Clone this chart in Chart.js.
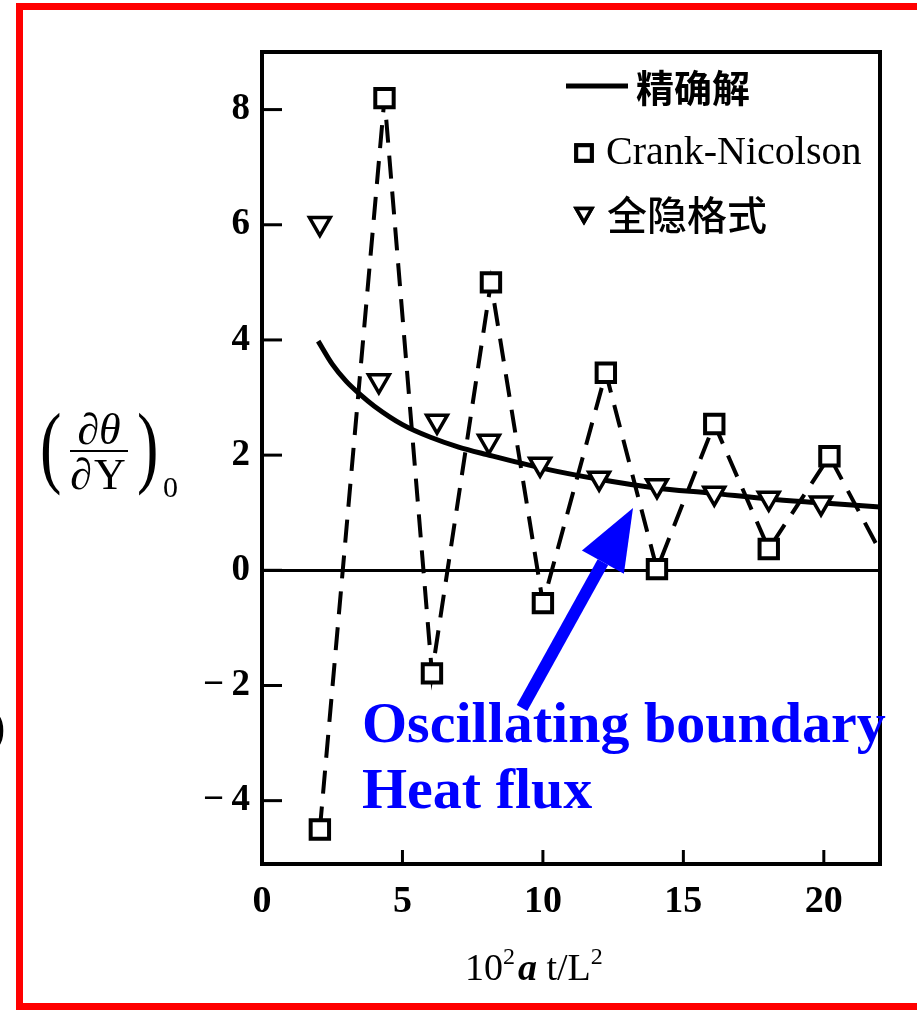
<!DOCTYPE html>
<html>
<head>
<meta charset="utf-8">
<script src="https://cdn.jsdelivr.net/npm/chart.js@4.4.0/dist/chart.umd.min.js"></script>
<style>
  html, body { margin: 0; padding: 0; background: #fff; }
  #wrap { position: relative; width: 917px; height: 1010px; overflow: hidden; }
  #frame { position: absolute; left: 16px; top: 3px; width: 940px; height: 1007px;
           border: 7px solid #f00; border-right: none; box-sizing: border-box; }
  #cut { position: absolute; left: -10px; top: 700px; font: bold 46px "Liberation Serif", serif; color: #000; z-index: 2; }
  #chart-box { position: absolute; left: 0; top: 0; width: 917px; height: 1010px; }
</style>
</head>
<body>
<div id="wrap">
  <div id="frame"></div>
  <div id="chart-box"><canvas id="fluxChart"></canvas></div>
  <span id="cut">)</span>
</div>
<script>
// values
const exactT    = [2, 2.5, 3, 3.5, 4, 5, 6, 7, 8, 10, 12, 14, 16, 18, 20, 22];
const exactFlux = [3.98, 3.58, 3.28, 3.05, 2.85, 2.53, 2.31, 2.14, 2.01, 1.77, 1.58, 1.43, 1.34, 1.24, 1.17, 1.1];

const cnT    = [2.06, 4.36, 6.05, 8.15, 10.0, 12.24, 14.06, 16.1, 18.04, 20.2, 22.2];
const cnFlux = [-4.5, 8.2, -1.79, 5.0, -0.57, 3.43, 0.02, 2.54, 0.37, 1.98, 0.15];

const implT    = [2.06, 4.16, 6.23, 8.08, 9.9, 12.0, 14.06, 16.1, 18.04, 19.9];
const implFlux = [6.02, 3.29, 2.59, 2.24, 1.84, 1.6, 1.47, 1.34, 1.25, 1.17];

const xTicks = [0, 5, 10, 15, 20];
const yTicks = [-4, -2, 0, 2, 4, 6, 8];

const legendLabels = ['精确解', 'Crank-Nicolson', '全隐格式'];

const SERIF = '"Liberation Serif", "Times New Roman", serif';
const CJK = '"Noto Sans CJK SC", sans-serif';

function pairs(xs, ys) {
    return xs.map((x, i) => ({ x: x, y: ys[i] }));
}

// frame, inward ticks, axis titles, legend and the blue note
const decorPlugin = {
    id: 'decor',
    afterDraw(chart) {
        const ctx = chart.ctx;
        const a = chart.chartArea;
        const xs = chart.scales.x;
        const ys = chart.scales.y;
        ctx.save();
        ctx.strokeStyle = '#000';
        ctx.fillStyle = '#000';

        // frame
        ctx.lineWidth = 4;
        ctx.strokeRect(a.left, a.top, a.right - a.left, a.bottom - a.top);

        // inward ticks
        ctx.lineWidth = 3;
        yTicks.forEach(v => {
            const y = ys.getPixelForValue(v);
            ctx.beginPath(); ctx.moveTo(a.left, y); ctx.lineTo(a.left + 20, y); ctx.stroke();
        });
        xTicks.slice(1).forEach(v => {
            const x = xs.getPixelForValue(v);
            ctx.beginPath(); ctx.moveTo(x, a.bottom); ctx.lineTo(x, a.bottom - 14); ctx.stroke();
        });

        // y title  ( dθ/dY )0
        ctx.textAlign = 'left';
        ctx.textBaseline = 'alphabetic';
        ctx.save();
        ctx.translate(40, 476);
        ctx.scale(0.7, 1);
        ctx.font = '92px ' + SERIF;
        ctx.fillText('(', 0, 0);
        ctx.restore();
        ctx.save();
        ctx.translate(137, 476);
        ctx.scale(0.7, 1);
        ctx.font = '92px ' + SERIF;
        ctx.fillText(')', 0, 0);
        ctx.restore();
        ctx.font = 'italic 44px ' + SERIF;
        ctx.textAlign = 'center';
        ctx.fillText('∂θ', 99, 444);
        ctx.lineWidth = 2;
        ctx.beginPath(); ctx.moveTo(70, 451); ctx.lineTo(128, 451); ctx.stroke();
        ctx.textAlign = 'left';
        ctx.font = 'italic 44px ' + SERIF;
        ctx.fillText('∂', 70, 489);
        ctx.font = '44px ' + SERIF;
        ctx.fillText('Y', 94, 489);
        ctx.font = '30px ' + SERIF;
        ctx.fillText('0', 163, 497);

        // x title  10^2 a t/L^2
        let x = 465;
        const base = 980;
        const parts = [
            ['10', '38px ' + SERIF, 0],
            ['2', '24px ' + SERIF, -16],
            ['a', 'italic bold 38px ' + SERIF, 0],
            [' t/L', '38px ' + SERIF, 0],
            ['2', '24px ' + SERIF, -16]
        ];
        parts.forEach(p => {
            ctx.font = p[1];
            ctx.fillText(p[0], x, base + p[2]);
            x += ctx.measureText(p[0]).width + (p[0] === '2' && x < 520 ? 3 : 0);
        });

        // legend
        ctx.lineWidth = 5;
        ctx.beginPath(); ctx.moveTo(566, 86); ctx.lineTo(628, 86); ctx.stroke();
        ctx.textBaseline = 'middle';
        ctx.font = 'bold 38px ' + CJK;
        ctx.fillText(legendLabels[0], 636, 88);
        ctx.font = '40px ' + SERIF;
        ctx.fillText(legendLabels[1], 606, 153);
        ctx.font = '500 40px ' + CJK;
        ctx.fillText(legendLabels[2], 607, 215);
        ctx.fillStyle = '#fff';
        ctx.lineWidth = 4;
        Chart.helpers.drawPoint(ctx, { pointStyle: 'rect', radius: 11, borderWidth: 4, rotation: 0 }, 584, 153);
        ctx.fill(); ctx.stroke();
        ctx.lineWidth = 3.5;
        Chart.helpers.drawPoint(ctx, { pointStyle: 'triangle', radius: 9, borderWidth: 3.5, rotation: 180 }, 584, 213);
        ctx.fill(); ctx.stroke();

        // blue arrow and note
        const tail = { x: 522, y: 708 };
        const tip = { x: 633, y: 508 };
        const ang = Math.atan2(tip.y - tail.y, tip.x - tail.x);
        const headLen = 62, headHalf = 24;
        const bx = tip.x - headLen * Math.cos(ang), by = tip.y - headLen * Math.sin(ang);
        ctx.strokeStyle = '#0000ff';
        ctx.fillStyle = '#0000ff';
        ctx.lineWidth = 12;
        ctx.beginPath(); ctx.moveTo(tail.x, tail.y); ctx.lineTo(bx, by); ctx.stroke();
        ctx.beginPath();
        ctx.moveTo(tip.x, tip.y);
        ctx.lineTo(bx + headHalf * Math.sin(ang), by - headHalf * Math.cos(ang));
        ctx.lineTo(bx - headHalf * Math.sin(ang), by + headHalf * Math.cos(ang));
        ctx.closePath(); ctx.fill();

        ctx.textBaseline = 'alphabetic';
        ctx.textAlign = 'left';
        ctx.font = 'bold 58px ' + SERIF;
        ctx.fillText('Oscillating boundary', 362, 742);
        ctx.fillText('Heat flux', 362, 808);
        ctx.restore();
    }
};

document.addEventListener('DOMContentLoaded', () => {
    const ctxFlux = document.getElementById('fluxChart');
    new Chart(ctxFlux, {
        type: 'line',
        data: {
            datasets: [
                {
                    label: legendLabels[2],
                    data: pairs(implT, implFlux),
                    showLine: false,
                    pointStyle: 'triangle',
                    rotation: 180,
                    pointRadius: 12,
                    pointBorderWidth: 3.5,
                    borderColor: '#000',
                    backgroundColor: '#fff'
                },
                {
                    label: legendLabels[1],
                    data: pairs(cnT, cnFlux),
                    borderColor: '#000',
                    backgroundColor: '#fff',
                    borderWidth: 4,
                    borderDash: [23, 13],
                    tension: 0,
                    pointStyle: 'rect',
                    pointRadius: cnT.map(t => (t > 22 ? 0 : 13)),
                    pointBorderWidth: 4
                },
                {
                    label: legendLabels[0],
                    data: pairs(exactT, exactFlux),
                    borderColor: '#000',
                    borderWidth: 5,
                    pointRadius: 0,
                    cubicInterpolationMode: 'monotone'
                }
            ]
        },
        options: {
            responsive: true,
            maintainAspectRatio: false,
            animation: false,
            layout: { padding: { top: 52, right: 37, left: 0, bottom: 0 } },
            plugins: {
                legend: { display: false },
                tooltip: { enabled: false }
            },
            scales: {
                x: {
                    type: 'linear',
                    min: 0,
                    max: 22,
                    afterBuildTicks: s => { s.ticks = xTicks.map(v => ({ value: v })); },
                    afterFit: s => { s.height = 146; },
                    grid: { display: false },
                    border: { display: false },
                    ticks: {
                        autoSkip: false,
                        maxRotation: 0,
                        padding: 7,
                        color: '#000',
                        font: { family: SERIF, size: 38, weight: 'bold' }
                    }
                },
                y: {
                    type: 'linear',
                    min: -5.1,
                    max: 9,
                    afterBuildTicks: s => { s.ticks = yTicks.map(v => ({ value: v })); },
                    afterFit: s => { s.width = 262; },
                    grid: {
                        drawTicks: false,
                        lineWidth: 3,
                        color: c => (c.tick && c.tick.value === 0 ? '#000' : 'rgba(0,0,0,0)')
                    },
                    border: { display: false },
                    ticks: {
                        autoSkip: false,
                        padding: 12,
                        color: '#000',
                        font: { family: SERIF, size: 37, weight: 'bold' },
                        callback: v => (v < 0 ? '\u2212\u2009' + Math.abs(v) : String(v))
                    }
                }
            }
        },
        plugins: [decorPlugin]
    });
});
</script>
</body>
</html>
